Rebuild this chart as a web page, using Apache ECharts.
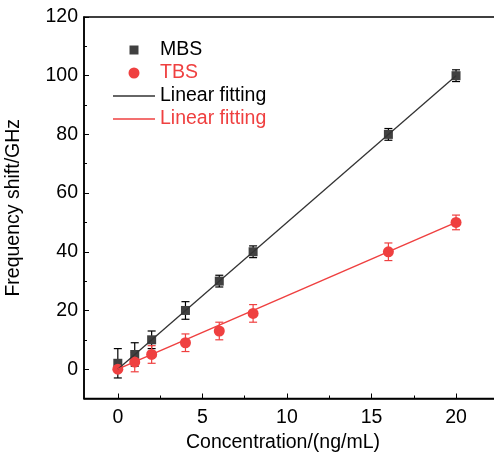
<!DOCTYPE html>
<html>
<head>
<meta charset="utf-8">
<script src="https://cdn.jsdelivr.net/npm/echarts@6/dist/echarts.min.js"></script>
<style>
  html, body { margin: 0; padding: 0; background: #fff; }
  #chart { width: 494px; height: 456px; }
</style>
</head>
<body>
<div id="chart"></div>
<script>
// Concentration points (ng/mL)
const concentration = [0, 1, 2, 4, 6, 8, 16, 20];

// MBS frequency shift (GHz) and its error
const mbsShift = [2, 5, 10, 20, 30, 40, 80, 100];
const mbsError = [5, 4, 3, 3, 2, 2, 2, 2];

// TBS frequency shift (GHz) and its error
const tbsShift = [0, 2.4, 5, 9, 13, 19, 40, 50];
const tbsError = [1, 3.3, 3, 3, 3, 3, 3, 2.5];

// Linear fit end points
const fitX = [0, 20];
const mbsFit = [0, 100];
const tbsFit = [0, 50];

// Axis tick values
const xMajorTicks = [0, 5, 10, 15, 20];
const xMinorTicks = [2.5, 7.5, 12.5, 17.5];
const yMajorTicks = [0, 20, 40, 60, 80, 100, 120];
const yMinorTicks = [10, 30, 50, 70, 90, 110];

// Legend entries
const legendNames = ['MBS', 'TBS', 'Linear fitting', 'Linear fitting'];

const BLACK = '#000000';
const GRAY = '#404040';
const LINE_GRAY = '#333333';
const RED = '#ef4040';
const FONT = 'Liberation Sans, Arial, sans-serif';
const FS = 19.5;

function errorBars(name, shift, err, color) {
  return {
    type: 'custom',
    name: name + '-err',
    z: 2,
    silent: true,
    data: concentration.map((x, i) => [x, shift[i] - err[i], shift[i] + err[i]]),
    renderItem: function (params, api) {
      const x = api.value(0);
      const lo = api.coord([x, api.value(1)]);
      const hi = api.coord([x, api.value(2)]);
      const half = 4;
      const style = { stroke: color, lineWidth: 1.2 };
      return {
        type: 'group',
        children: [
          { type: 'line', shape: { x1: lo[0], y1: lo[1], x2: hi[0], y2: hi[1] }, style: style },
          { type: 'line', shape: { x1: lo[0] - half, y1: lo[1], x2: lo[0] + half, y2: lo[1] }, style: style },
          { type: 'line', shape: { x1: hi[0] - half, y1: hi[1], x2: hi[0] + half, y2: hi[1] }, style: style }
        ]
      };
    }
  };
}

// Legend drawn as graphic elements: marker / line key, then label
const keyX = 134, lineX1 = 113, lineX2 = 155, textX = 160;
const rowY = [50, 73, 96, 119];
const legendGraphics = [
  { type: 'rect', shape: { x: keyX - 4.5, y: rowY[0] - 4.5, width: 9, height: 9 }, style: { fill: GRAY } },
  { type: 'circle', shape: { cx: keyX, cy: rowY[1], r: 5.5 }, style: { fill: RED } },
  { type: 'line', shape: { x1: lineX1, y1: rowY[2], x2: lineX2, y2: rowY[2] }, style: { stroke: LINE_GRAY, lineWidth: 1.3 } },
  { type: 'line', shape: { x1: lineX1, y1: rowY[3], x2: lineX2, y2: rowY[3] }, style: { stroke: RED, lineWidth: 1.5 } }
];
const legendColors = [BLACK, RED, BLACK, RED];
legendNames.forEach((name, i) => {
  legendGraphics.push({
    type: 'text',
    x: textX, y: rowY[i],
    style: { text: name, fill: legendColors[i], font: FS + 'px ' + FONT, textVerticalAlign: 'middle', verticalAlign: 'middle' }
  });
});

const chart = echarts.init(document.getElementById('chart'), null, { renderer: 'canvas' });

const axisText = { color: BLACK, fontFamily: FONT, fontSize: FS };

chart.setOption({
  animation: false,
  backgroundColor: '#ffffff',
  grid: {
    left: 84, right: -6, top: 17, bottom: 57.5,
    outerBoundsMode: 'none',
    containLabel: false,
    show: true, borderColor: BLACK, borderWidth: 1.5, backgroundColor: 'transparent'
  },
  graphic: legendGraphics,
  xAxis: [{
    type: 'value',
    min: -2, max: 22.6,
    name: 'Concentration/(ng/mL)',
    nameLocation: 'middle',
    nameGap: 31.5,
    nameTextStyle: { ...axisText, padding: [0, 18, 0, 0] },
    axisLine: { show: true, onZero: false, lineStyle: { color: BLACK, width: 1.5 } },
    axisTick: { show: true, inside: true, length: 5, customValues: xMajorTicks, lineStyle: { color: BLACK, width: 1 } },
    axisLabel: { show: true, margin: 9.5, customValues: xMajorTicks, ...axisText },
    splitLine: { show: false }
  }, {
    type: 'value',
    min: -2, max: 22.6,
    position: 'bottom',
    axisLine: { show: false, onZero: false },
    axisTick: { show: true, inside: true, length: 3, customValues: xMinorTicks, lineStyle: { color: BLACK, width: 1 } },
    axisLabel: { show: false },
    splitLine: { show: false }
  }],
  yAxis: [{
    type: 'value',
    min: -10, max: 120,
    name: 'Frequency shift/GHz',
    nameLocation: 'middle',
    nameGap: 60,
    nameTextStyle: axisText,
    axisLine: { show: true, onZero: false, lineStyle: { color: BLACK, width: 1.5 } },
    axisTick: { show: true, inside: true, length: 5, customValues: yMajorTicks, lineStyle: { color: BLACK, width: 1 } },
    axisLabel: { show: true, margin: 6, customValues: yMajorTicks, ...axisText },
    splitLine: { show: false }
  }, {
    type: 'value',
    min: -10, max: 120,
    position: 'left',
    axisLine: { show: false, onZero: false },
    axisTick: { show: true, inside: true, length: 3, customValues: yMinorTicks, lineStyle: { color: BLACK, width: 1 } },
    axisLabel: { show: false },
    splitLine: { show: false }
  }],
  series: [
    errorBars('MBS', mbsShift, mbsError, BLACK),
    {
      name: 'MBS',
      type: 'scatter',
      z: 3,
      symbol: 'rect',
      symbolSize: 9,
      itemStyle: { color: GRAY, opacity: 1 },
      data: concentration.map((x, i) => [x, mbsShift[i]])
    },
    errorBars('TBS', tbsShift, tbsError, RED),
    {
      name: 'TBS',
      type: 'scatter',
      z: 4,
      symbol: 'circle',
      symbolSize: 11,
      itemStyle: { color: RED, opacity: 1 },
      data: concentration.map((x, i) => [x, tbsShift[i]])
    },
    {
      name: 'MBS fit',
      type: 'line',
      z: 5,
      symbol: 'none',
      showSymbol: false,
      lineStyle: { color: LINE_GRAY, width: 1.3 },
      data: fitX.map((x, i) => [x, mbsFit[i]])
    },
    {
      name: 'TBS fit',
      type: 'line',
      z: 5,
      symbol: 'none',
      showSymbol: false,
      lineStyle: { color: RED, width: 1.5 },
      data: fitX.map((x, i) => [x, tbsFit[i]])
    }
  ]
});
</script>
</body>
</html>
